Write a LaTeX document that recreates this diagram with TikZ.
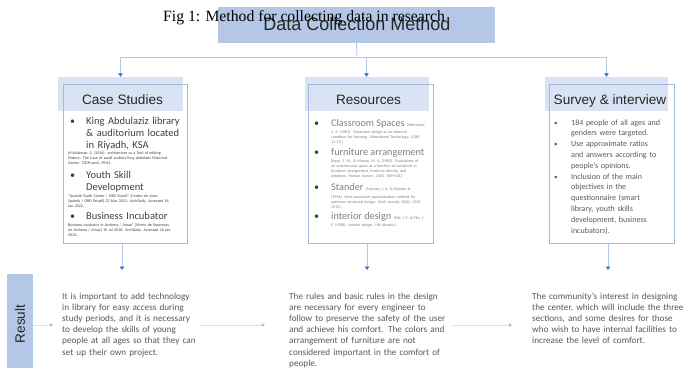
\documentclass[tikz,border=0pt]{standalone}
\usepackage{fontspec}
\setmainfont{Carlito}
\newfontfamily\hdfont{Liberation Sans}
\newfontfamily\ttlfont{Liberation Serif}
\usetikzlibrary{arrows.meta}
\definecolor{topc}{HTML}{B4C7E7}
\definecolor{bandc}{HTML}{DAE3F3}
\definecolor{framec}{HTML}{A3B8DF}
\definecolor{connc}{HTML}{B4C7E7}
\definecolor{tipc}{HTML}{4472C4}
\definecolor{lightc}{HTML}{D6E0F2}
\definecolor{ltipc}{HTML}{A9BDE2}
\definecolor{hdc}{HTML}{262626}
\definecolor{csc}{HTML}{404040}
\definecolor{rsc}{HTML}{7F7F7F}
\definecolor{bodyc}{HTML}{595959}
\newcommand\jl[2]{\makebox[#1][s]{#2}}
\newcommand\tinyref{\fontsize{4}{5}\selectfont}
\begin{document}
\begin{tikzpicture}[x=1pt,y=-1pt,
  band/.style={fill=bandc, draw=none, inner sep=0},
  frame/.style={draw=framec, line width=0.6pt, inner sep=0},
  conn/.style={draw=connc, line width=0.8pt},
  arr/.style={-{Triangle[width=4.5pt,length=3.5pt,color=tipc]}},
  lconn/.style={draw=lightc, line width=0.8pt},
  larr/.style={-{Triangle[width=3.5pt,length=3pt,color=ltipc]}},
  txt/.style={inner sep=0, anchor=base west, align=left},
  hd/.style={inner sep=0, anchor=base, text=hdc, font=\hdfont\fontsize{13.6}{15}\selectfont},
  bul/.style={inner sep=0, anchor=base west}
]
\useasboundingbox (0,0) rectangle (683,368);
\fill[white] (0,0) rectangle (683,368);

% top box and titles
\node[fill=topc, minimum width=277pt, minimum height=36pt, inner sep=0] (top) at (356.5,25) {};
\node[inner sep=0, anchor=base, text=hdc, font=\hdfont\fontsize{18}{20}\selectfont] (topt) at (357,30) {Data Collection Method};
\node[inner sep=0, anchor=base west, font=\ttlfont\fontsize{15.7}{17}\selectfont] (fig) at (163,21) {Fig 1: Method for collecting data in research};

% header bands
\node[band, minimum width=125pt, minimum height=34pt] (csh) at (120.5,94) {};
\node[band, minimum width=124pt, minimum height=34pt] (rsh) at (366.5,94) {};
\node[band, minimum width=123pt, minimum height=34pt] (svh) at (606.5,94) {};
% frames
\node[frame, minimum width=124pt, minimum height=159pt] (cso) at (125,163.5) {};
\node[frame, minimum width=125pt, minimum height=159pt] (rso) at (370.5,163.5) {};
\node[frame, minimum width=125pt, minimum height=159pt] (svo) at (611.5,163.5) {};
% headers
\node[hd] (csht) at (122.5,104) {Case Studies};
\node[hd] (rsht) at (368.5,104) {Resources};
\node[hd] (svht) at (610,104) {Survey \& interview};

% top connectors
\coordinate (j) at (357,57);
\draw[conn] (top.south) -- (j);
\draw[conn,arr] (j) -| (csh.north);
\draw[conn,arr] (j) -| (rsh.north);
\draw[conn,arr] (j) -| (svh.north);

% bottom connectors
\coordinate (b1) at (122,270);
\coordinate (b2) at (367,270);
\coordinate (b3) at (608,270);
\draw[conn,arr] (b1 |- cso.south) -- (b1);
\draw[conn,arr] (b2 |- rso.south) -- (b2);
\draw[conn,arr] (b3 |- svo.south) -- (b3);

% Case studies content
\begin{scope}[every node/.append style={text=csc}]
\node[bul, font=\fontsize{10}{12}\selectfont] (cb1) at (70,124) {•};
\node[txt, text width=100pt, font=\fontsize{10.5}{12}\selectfont] (c1) at (86,124) {King Abdulaziz library\\ \& auditorium located\\ in Riyadh, KSA};
\node[txt, text width=118pt, font=\tinyref] (c1r) at (68,154.5) {Al-Solaiman, S. (2016). architecture as a Tool of editing\\ History: The Case of saudi arabia's King abdulaziz Historical\\ Center. TZDP.uoml, 39-61.};
\node[bul, font=\fontsize{10}{12}\selectfont] (cb2) at (70,178) {•};
\node[txt, text width=100pt, font=\fontsize{10.5}{12}\selectfont] (c2) at (86,178) {Youth Skill\\ Development};
\node[txt, text width=118pt, font=\tinyref] (c2r) at (68,197.5) {"Spatnik Youth Center / OBD Estudi" [Centre de Joves\\ Spatnik / OBD Estudi] 22 Mar 2021. ArchDaily. Accessed 16\\ Jan 2022.};
\node[bul, font=\fontsize{10}{12}\selectfont] (cb3) at (70,219.5) {•};
\node[txt, text width=100pt, font=\fontsize{10.5}{12}\selectfont] (c3) at (86,219.5) {Business Incubator};
\node[txt, text width=118pt, font=\tinyref] (c3r) at (68,226.5) {Business Incubator in Archena / Amaa" [Vivero de Empresas\\ en Archena / Amaa] 10 Jul 2018. ArchDaily. Accessed 16 Jan\\ 2022.};
\end{scope}

% Resources content
\begin{scope}[every node/.append style={text=rsc}]
\node[bul, font=\fontsize{10}{12}\selectfont, text=csc] (rb1) at (314,126) {•};
\node[txt] (r1) at (331,126) {\fontsize{10.2}{12}\selectfont Classroom Spaces {\tinyref (Weinstein,}};
\node[txt, text width=100pt, font=\tinyref] (r1r) at (331,133.5) {C. S. (1981). Classroom design as an external\\ condition for learning. \textit{Educational Technology}, 21(8),\\ 12-19.)};
\node[bul, font=\fontsize{10}{12}\selectfont, text=csc] (rb2) at (314,155) {•};
\node[txt] (r2) at (331,155) {\fontsize{10.2}{12}\selectfont furniture arrangement};
\node[txt, text width=100pt, font=\tinyref] (r2r) at (331,162.5) {(Kaye, S. M., \& Murray, M. A. (1982). Evaluations of\\ an architectural space as a function of variations in\\ furniture arrangement, furniture density, and\\ windows. \textit{Human Factors}, 24(5), 609-618.)};
\node[bul, font=\fontsize{10}{12}\selectfont, text=csc] (rb3) at (314,190) {•};
\node[txt] (r3) at (331,190) {\fontsize{10.2}{12}\selectfont Stander {\tinyref (Snyman, J. A., \& Stander, N.}};
\node[txt, text width=100pt, font=\tinyref] (r3r) at (331,198.5) {(1994). New successive approximation method for\\ optimum structural design. \textit{AIAA Journal}, 32(6), 1310-\\ 1315.)};
\node[bul, font=\fontsize{10}{12}\selectfont, text=csc] (rb4) at (314,219) {•};
\node[txt] (r4) at (331,219) {\fontsize{10.2}{12}\selectfont interior design {\tinyref (Pile, J. F., \& Pile, J.}};
\node[txt, text width=100pt, font=\tinyref] (r4r) at (331,226.5) {F. (1988). \textit{Interior design}. HN Abrams.)};
\end{scope}

% Survey content
\begin{scope}[every node/.append style={text=bodyc}]
\node[bul, font=\fontsize{7}{10.8}\selectfont] (sb1) at (554,125) {•};
\node[bul, font=\fontsize{7}{10.8}\selectfont] (sb2) at (554,146.6) {•};
\node[bul, font=\fontsize{7}{10.8}\selectfont] (sb3) at (554,179) {•};
\node[txt, text width=100pt, font=\fontsize{8}{10.8}\selectfont] (sv) at (571,125) {184 people of all ages and\\ genders were targeted.\\ Use approximate ratios\\ and answers according to\\ people's opinions.\\ Inclusion of the main\\ objectives in the\\ questionnaire (smart\\ library, youth skills\\ development, business\\ incubators).};
\end{scope}

% Result band
\node[fill=topc, minimum width=26pt, minimum height=94pt, inner sep=0] (res) at (20,321) {};
\node[rotate=90, inner sep=0, text=hdc, font=\hdfont\fontsize{13.6}{15}\selectfont] (rest) at (20,324) {Result};

% result texts
\begin{scope}[every node/.append style={text=bodyc}]
\node[txt, text width=127pt, font=\fontsize{9.2}{11.2}\selectfont] (t1) at (62,299) {\jl{127pt}{It is important to add technology}\\ \jl{127pt}{in library for easy access during}\\ \jl{127pt}{study periods, and it is necessary}\\ \jl{127pt}{to develop the skills of young}\\ \jl{127pt}{people at all ages so that they can}\\ set up their own project.};
\node[txt, text width=148pt, font=\fontsize{9.2}{11.2}\selectfont] (t2) at (289,299) {\jl{148pt}{The rules and basic rules in the design}\\ \jl{148pt}{are necessary for every engineer to}\\ \jl{148pt}{follow to preserve the safety of the user}\\ \jl{148pt}{and achieve his comfort. The colors and}\\ \jl{148pt}{arrangement of furniture are not}\\ \jl{148pt}{considered important in the comfort of}\\ people.};
\node[txt, text width=148pt, font=\fontsize{9.2}{11.2}\selectfont] (t3) at (532,299) {\jl{148pt}{The community's interest in designing}\\ \jl{148pt}{the center, which will include the three}\\ \jl{148pt}{sections, and some desires for those}\\ \jl{148pt}{who wish to have internal facilities to}\\ increase the level of comfort.};
\end{scope}

% result arrows
\coordinate (h1) at (53,325);
\coordinate (h2s) at (200,325);
\coordinate (h2) at (265,325);
\coordinate (h3s) at (453,325);
\coordinate (h3) at (512,325);
\draw[lconn,larr] (res.east |- h1) -- (h1);
\draw[lconn,larr] (h2s) -- (h2);
\draw[lconn,larr] (h3s) -- (h3);
\end{tikzpicture}
\end{document}
